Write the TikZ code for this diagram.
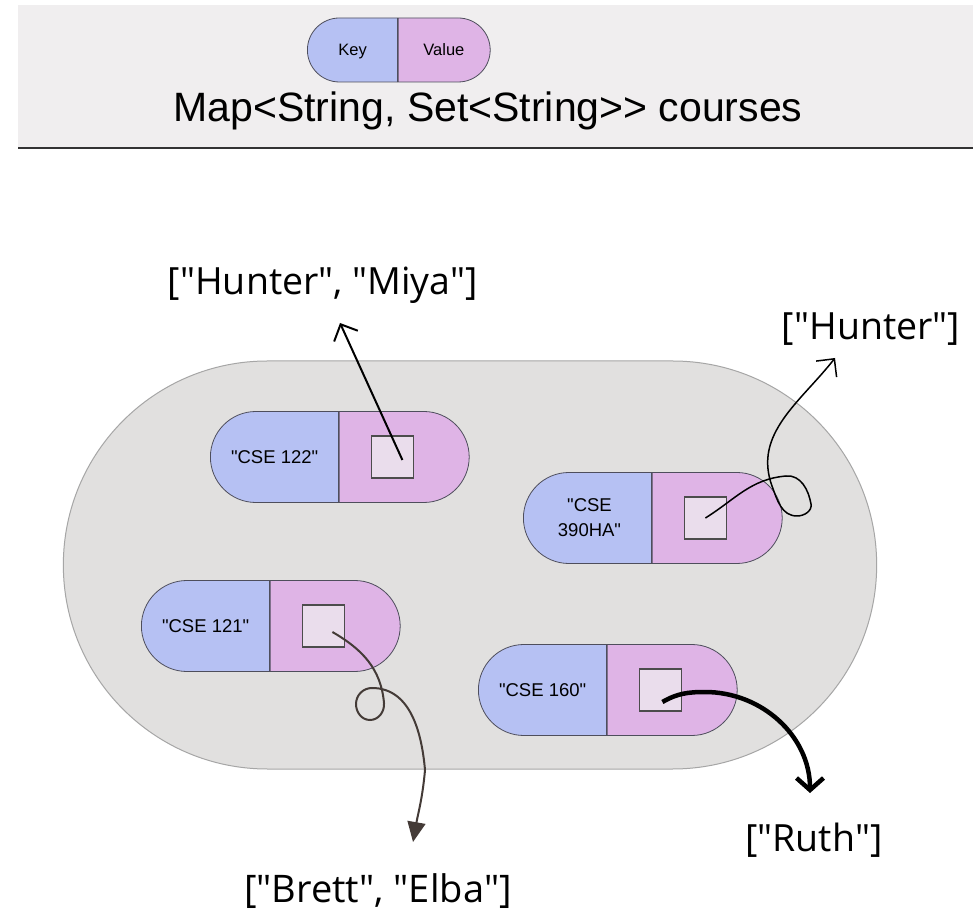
\documentclass[tikz,border=0pt]{standalone}
\usepackage{fontspec}
\setmainfont{Liberation Sans}
\newfontfamily\labfont{Open Sans}
\usepackage{tikz}
\usetikzlibrary{arrows.meta,shapes.misc,positioning}
\definecolor{keyblue}{HTML}{B6C1F3}
\definecolor{valpink}{HTML}{DFB4E6}
\definecolor{boxfill}{HTML}{EADDEC}
\definecolor{bagfill}{HTML}{E1E0DF}
\definecolor{bandgray}{HTML}{F0EEEF}
\definecolor{edgegray}{HTML}{4E4E5C}
\definecolor{brownline}{HTML}{443B37}
\newcommand{\qq}{\textquotedbl}
\tikzset{
  keyhalf/.style={rounded rectangle,rounded rectangle right arc=none,fill=keyblue,draw=edgegray,line width=0.8pt,
    minimum width=128pt,minimum height=91pt,inner sep=0pt,align=center,font=\fontsize{18.5}{25}\selectfont},
  valhalf/.style={rounded rectangle,rounded rectangle left arc=none,fill=valpink,draw=edgegray,line width=0.8pt,
    minimum width=130pt,minimum height=91pt,inner sep=0pt,font=\fontsize{16.5}{19}\selectfont},
  slot/.style={rectangle,fill=boxfill,draw=black!70,line width=1.2pt,minimum size=42pt,inner sep=0pt},
  setlbl/.style={font=\labfont\fontsize{37.5}{42}\selectfont,inner sep=0pt,anchor=base},
  barb/.style={-{Straight Barb[length=13pt,width=26pt]},line width=2pt}
}

\begin{document}
\begin{tikzpicture}[x=1pt,y=1pt]
\fill[white] (0,0) rectangle (973,910);
\useasboundingbox (0,0) rectangle (973,910);
\fill[bandgray] (18,762) rectangle (973,905);
\draw[line width=2pt,black!80] (18,762) -- (973,762);
\node[keyhalf,anchor=west,minimum width=90pt,minimum height=64pt,font=\fontsize{16.5}{19}\selectfont,text height=12pt,text depth=0pt] (hkey) at (307,860) {Key};
\node[valhalf,minimum width=92pt,minimum height=64pt,text height=12pt,text depth=0pt,right=0pt of hkey] (hval) {Value};
\node[anchor=base,inner sep=0pt,font=\fontsize{41}{46}\selectfont] (title) at (488,788) {Map<String, Set<String>{}> courses};

\node[rounded rectangle,fill=bagfill,draw=black!35,line width=1pt,minimum width=820pt,minimum height=408pt] (bag) at (470,345) {};

\node[keyhalf,anchor=west] (k122) at (210,453) {\qq CSE 122\qq};
\node[valhalf,right=0pt of k122] (v122) {};
\node[slot,right=32pt of k122] (s122) {};
\node[keyhalf,anchor=west] (k390) at (523,392) {\qq CSE\\390HA\qq};
\node[valhalf,right=0pt of k390] (v390) {};
\node[slot,right=32pt of k390] (s390) {};
\node[keyhalf,anchor=west] (k121) at (141,284) {\qq CSE 121\qq};
\node[valhalf,right=0pt of k121] (v121) {};
\node[slot,right=32pt of k121] (s121) {};
\node[keyhalf,anchor=west] (k160) at (478,220) {\qq CSE 160\qq};
\node[valhalf,right=0pt of k160] (v160) {};
\node[slot,right=32pt of k160] (s160) {};

\node[setlbl] (hm) at (323,615) {[\qq Hunter\qq, \qq Miya\qq]};
\node[setlbl] (hu) at (871,570) {[\qq Hunter\qq]};
\node[setlbl,font=\labfont\fontsize{38}{42}\selectfont] (be) at (378,8) {[\qq Brett\qq, \qq Elba\qq]};
\node[setlbl] (ru) at (814,59) {[\qq Ruth\qq]};
\coordinate (t1) at (340,587);
\coordinate (t2) at (835,552);
\coordinate (t3) at (413,68);
\coordinate (t4) at (810,117);

\draw[barb] ([shift={(10pt,-3pt)}]s122.center) -- (t1);
\draw[barb,line width=1.5pt] (s390.center) to[out=32,in=185] (786,434) to[out=5,in=100] (811,406)
  to[out=-80,in=0] (797,394) to[out=180,in=-70] (772,424) to[out=110,in=232] (t2);
\draw[brownline,line width=2pt,-{Triangle[length=20pt,width=18pt]}] ([shift={(9pt,-6pt)}]s121.center)
  to[out=-30,in=95] (384,207) to[out=-85,in=0] (370,190) to[out=180,in=-90] (356,206)
  to[out=90,in=180] (372,222) to[out=0,in=95] (425,140) to[out=-95,in=80] (t3);
\draw[-{Straight Barb[length=12pt,width=27pt]},line width=4.5pt] ([shift={(2pt,-12pt)}]s160.center)
  to[out=30,in=180] (705,218) to[out=0,in=90] (t4);
\end{tikzpicture}
\end{document}
